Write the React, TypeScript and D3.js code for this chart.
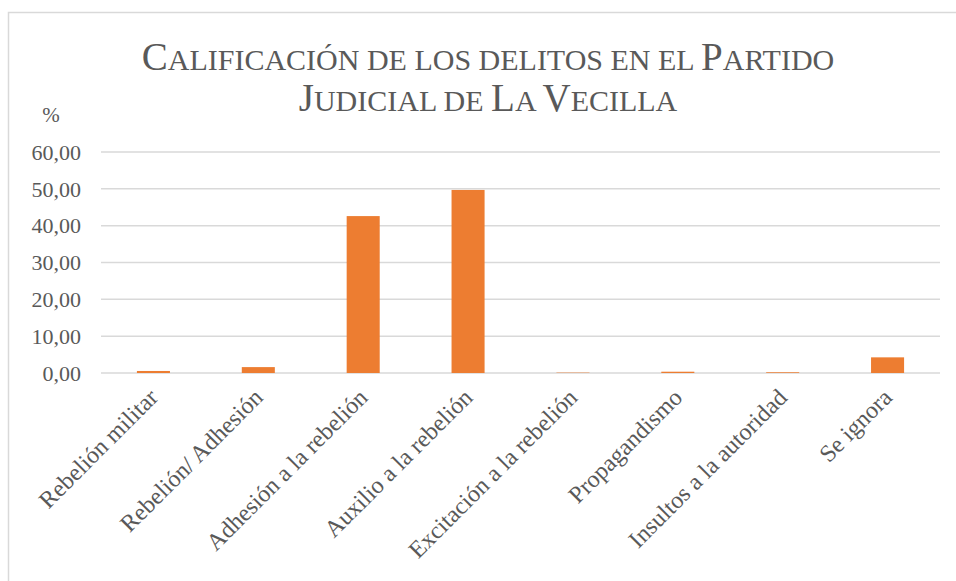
import React from "react";
import * as d3 from "d3";

const categories = [
  "Rebelión militar",
  "Rebelión/ Adhesión",
  "Adhesión a la rebelión",
  "Auxilio a la rebelión",
  "Excitación a la rebelión",
  "Propagandismo",
  "Insultos a la autoridad",
  "Se ignora",
];
const values = [0.55, 1.6, 42.6, 49.7, 0.1, 0.35, 0.2, 4.25];
const yTicks = [0, 10, 20, 30, 40, 50, 60];
const titleLines = ["Calificación de los delitos en el Partido", "Judicial de La Vecilla"];
const yUnit = "%";

const W = 956;
const H = 581;
const FONT = "'Liberation Serif', 'Times New Roman', serif";
const BIG = 39;
const SMALL = 30;

function smallCapsRuns(t: string) {
  const runs: { s: string; big: boolean }[] = [];
  for (const ch of t) {
    const big = ch !== " " && ch === ch.toUpperCase() && ch !== ch.toLowerCase();
    const last = runs[runs.length - 1];
    if (last && last.big === big) last.s += ch;
    else runs.push({ s: ch, big });
  }
  return runs;
}

export default function App() {
  const x = d3
    .scaleBand<string>()
    .domain(categories)
    .range([101, 940])
    .paddingInner(0.685)
    .paddingOuter(0.3425);
  const y = d3.scaleLinear().domain([0, 60]).range([373, 152]);
  const fmt = (v: number) => d3.format(".2f")(v).replace(".", ",");

  return (
    <svg
      width={W}
      height={H}
      style={{ position: "absolute", left: 0, top: 0, background: "#fff" }}
      fontFamily={FONT}
    >
      <rect x={0} y={0} width={W} height={H} fill="#fff" />
      <rect x={8.5} y={12.5} width={1000} height={1000} fill="#fff" stroke="#d9d9d9" strokeWidth={1.5} />
      {titleLines.map((t, i) => (
        <text
          key={i}
          x={488}
          y={70 + i * 41}
          textAnchor="middle"
          fill="#595959"
          style={{ whiteSpace: "pre" }}
        >
          {smallCapsRuns(t).map((r, j) => (
            <tspan key={j} fontSize={r.big ? BIG : SMALL}>
              {r.s.toUpperCase()}
            </tspan>
          ))}
        </text>
      ))}
      <text x={51} y={122} textAnchor="middle" fontSize={21} fill="#595959">
        {yUnit}
      </text>
      {yTicks.map((t) => (
        <g key={t}>
          <line x1={101} x2={940} y1={y(t)} y2={y(t)} stroke="#d9d9d9" strokeWidth={1.5} />
          <text x={81} y={y(t)} dy="0.35em" textAnchor="end" fontSize={22} fill="#595959">
            {fmt(t)}
          </text>
        </g>
      ))}
      {categories.map((c, i) => (
        <rect
          key={c}
          x={x(c)!}
          y={y(values[i])}
          width={x.bandwidth()}
          height={y(0) - y(values[i])}
          fill="#ED7D31"
        />
      ))}
      {categories.map((c) => {
        const cx = x(c)! + x.bandwidth() / 2;
        return (
          <text
            key={c}
            transform={`translate(${cx - 6},${387}) rotate(-45)`}
            textAnchor="end"
            dy="0.7em"
            fontSize={24}
            fill="#595959"
          >
            {c}
          </text>
        );
      })}
    </svg>
  );
}
